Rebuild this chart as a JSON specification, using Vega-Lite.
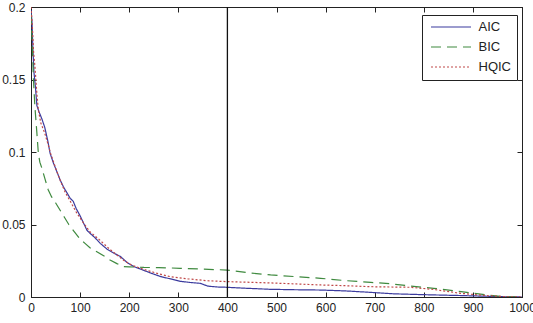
{
  "$schema": "https://vega.github.io/schema/vega-lite/v6.json",
  "width": 491,
  "height": 290,
  "autosize": {"type": "none"},
  "padding": {"left": 31, "top": 7, "right": 11, "bottom": 26},
  "background": "white",
  "config": {
    "view": {"stroke": "#222", "strokeWidth": 1},
    "axis": {
      "grid": false,
      "domainColor": "#222",
      "tickColor": "#222",
      "tickSize": -5,
      "labelFont": "Liberation Sans",
      "labelFontSize": 12,
      "labelColor": "#222",
      "title": null
    },
    "legend": {
      "labelFont": "Liberation Sans",
      "labelFontSize": 13,
      "labelColor": "#222"
    }
  },
  "datasets": {
    "curves": [
      {"model": "AIC", "n": 0, "v": 0.198}, {"model": "AIC", "n": 2, "v": 0.19}, {"model": "AIC", "n": 4, "v": 0.17},
      {"model": "AIC", "n": 6, "v": 0.155}, {"model": "AIC", "n": 9, "v": 0.145}, {"model": "AIC", "n": 12, "v": 0.132},
      {"model": "AIC", "n": 16, "v": 0.128}, {"model": "AIC", "n": 22, "v": 0.123}, {"model": "AIC", "n": 28, "v": 0.117},
      {"model": "AIC", "n": 34, "v": 0.108}, {"model": "AIC", "n": 39, "v": 0.099}, {"model": "AIC", "n": 45, "v": 0.093},
      {"model": "AIC", "n": 52, "v": 0.087}, {"model": "AIC", "n": 59, "v": 0.081}, {"model": "AIC", "n": 66, "v": 0.076},
      {"model": "AIC", "n": 73, "v": 0.072}, {"model": "AIC", "n": 80, "v": 0.068}, {"model": "AIC", "n": 86, "v": 0.066},
      {"model": "AIC", "n": 92, "v": 0.061}, {"model": "AIC", "n": 100, "v": 0.056}, {"model": "AIC", "n": 107, "v": 0.051},
      {"model": "AIC", "n": 114, "v": 0.046}, {"model": "AIC", "n": 120, "v": 0.044}, {"model": "AIC", "n": 130, "v": 0.041},
      {"model": "AIC", "n": 141, "v": 0.037}, {"model": "AIC", "n": 155, "v": 0.033}, {"model": "AIC", "n": 170, "v": 0.030},
      {"model": "AIC", "n": 182, "v": 0.028}, {"model": "AIC", "n": 195, "v": 0.024}, {"model": "AIC", "n": 209, "v": 0.021},
      {"model": "AIC", "n": 225, "v": 0.019}, {"model": "AIC", "n": 243, "v": 0.0166}, {"model": "AIC", "n": 265, "v": 0.014},
      {"model": "AIC", "n": 284, "v": 0.0125}, {"model": "AIC", "n": 304, "v": 0.0108}, {"model": "AIC", "n": 325, "v": 0.0100},
      {"model": "AIC", "n": 345, "v": 0.0094}, {"model": "AIC", "n": 360, "v": 0.0075}, {"model": "AIC", "n": 380, "v": 0.0069},
      {"model": "AIC", "n": 399, "v": 0.0067}, {"model": "AIC", "n": 440, "v": 0.0060}, {"model": "AIC", "n": 488, "v": 0.0053},
      {"model": "AIC", "n": 540, "v": 0.0050}, {"model": "AIC", "n": 590, "v": 0.0048}, {"model": "AIC", "n": 640, "v": 0.0042},
      {"model": "AIC", "n": 692, "v": 0.0032}, {"model": "AIC", "n": 739, "v": 0.0022}, {"model": "AIC", "n": 800, "v": 0.0016},
      {"model": "AIC", "n": 876, "v": 0.0010}, {"model": "AIC", "n": 930, "v": 0.0005}, {"model": "AIC", "n": 960, "v": 0.0002},
      {"model": "AIC", "n": 1000, "v": 0},
      {"model": "BIC", "n": 0, "v": 0.195}, {"model": "BIC", "n": 3, "v": 0.17}, {"model": "BIC", "n": 5, "v": 0.15},
      {"model": "BIC", "n": 8, "v": 0.131}, {"model": "BIC", "n": 12, "v": 0.113}, {"model": "BIC", "n": 15, "v": 0.099},
      {"model": "BIC", "n": 18, "v": 0.093}, {"model": "BIC", "n": 22, "v": 0.089}, {"model": "BIC", "n": 28, "v": 0.082},
      {"model": "BIC", "n": 35, "v": 0.074}, {"model": "BIC", "n": 42, "v": 0.069}, {"model": "BIC", "n": 50, "v": 0.065},
      {"model": "BIC", "n": 59, "v": 0.060}, {"model": "BIC", "n": 68, "v": 0.055}, {"model": "BIC", "n": 77, "v": 0.050},
      {"model": "BIC", "n": 86, "v": 0.046}, {"model": "BIC", "n": 100, "v": 0.040}, {"model": "BIC", "n": 110, "v": 0.037},
      {"model": "BIC", "n": 120, "v": 0.034}, {"model": "BIC", "n": 135, "v": 0.031}, {"model": "BIC", "n": 150, "v": 0.028},
      {"model": "BIC", "n": 161, "v": 0.0255}, {"model": "BIC", "n": 175, "v": 0.023}, {"model": "BIC", "n": 188, "v": 0.021},
      {"model": "BIC", "n": 200, "v": 0.0208}, {"model": "BIC", "n": 230, "v": 0.0204}, {"model": "BIC", "n": 260, "v": 0.0203},
      {"model": "BIC", "n": 304, "v": 0.0198}, {"model": "BIC", "n": 350, "v": 0.0192}, {"model": "BIC", "n": 399, "v": 0.0186},
      {"model": "BIC", "n": 440, "v": 0.0168}, {"model": "BIC", "n": 488, "v": 0.0152}, {"model": "BIC", "n": 540, "v": 0.0140},
      {"model": "BIC", "n": 590, "v": 0.0129}, {"model": "BIC", "n": 640, "v": 0.0113}, {"model": "BIC", "n": 692, "v": 0.0101},
      {"model": "BIC", "n": 730, "v": 0.0092}, {"model": "BIC", "n": 773, "v": 0.0076}, {"model": "BIC", "n": 820, "v": 0.0060},
      {"model": "BIC", "n": 876, "v": 0.0037}, {"model": "BIC", "n": 930, "v": 0.0014}, {"model": "BIC", "n": 963, "v": 0.0002},
      {"model": "BIC", "n": 1000, "v": 0},
      {"model": "HQIC", "n": 0, "v": 0.2}, {"model": "HQIC", "n": 3, "v": 0.185}, {"model": "HQIC", "n": 5, "v": 0.17},
      {"model": "HQIC", "n": 8, "v": 0.159}, {"model": "HQIC", "n": 12, "v": 0.14}, {"model": "HQIC", "n": 15, "v": 0.129},
      {"model": "HQIC", "n": 20, "v": 0.12}, {"model": "HQIC", "n": 28, "v": 0.113}, {"model": "HQIC", "n": 35, "v": 0.105},
      {"model": "HQIC", "n": 40, "v": 0.099}, {"model": "HQIC", "n": 50, "v": 0.089}, {"model": "HQIC", "n": 60, "v": 0.080},
      {"model": "HQIC", "n": 70, "v": 0.072}, {"model": "HQIC", "n": 80, "v": 0.066}, {"model": "HQIC", "n": 93, "v": 0.058},
      {"model": "HQIC", "n": 107, "v": 0.051}, {"model": "HQIC", "n": 120, "v": 0.045}, {"model": "HQIC", "n": 141, "v": 0.039},
      {"model": "HQIC", "n": 160, "v": 0.033}, {"model": "HQIC", "n": 175, "v": 0.029}, {"model": "HQIC", "n": 190, "v": 0.025},
      {"model": "HQIC", "n": 205, "v": 0.022}, {"model": "HQIC", "n": 230, "v": 0.019}, {"model": "HQIC", "n": 260, "v": 0.016},
      {"model": "HQIC", "n": 284, "v": 0.014}, {"model": "HQIC", "n": 320, "v": 0.0125}, {"model": "HQIC", "n": 360, "v": 0.0112},
      {"model": "HQIC", "n": 399, "v": 0.0106}, {"model": "HQIC", "n": 440, "v": 0.0102}, {"model": "HQIC", "n": 488, "v": 0.0097},
      {"model": "HQIC", "n": 540, "v": 0.0090}, {"model": "HQIC", "n": 590, "v": 0.0083}, {"model": "HQIC", "n": 640, "v": 0.0078},
      {"model": "HQIC", "n": 692, "v": 0.0071}, {"model": "HQIC", "n": 730, "v": 0.0069}, {"model": "HQIC", "n": 773, "v": 0.0067},
      {"model": "HQIC", "n": 820, "v": 0.0052}, {"model": "HQIC", "n": 876, "v": 0.0025}, {"model": "HQIC", "n": 930, "v": 0.0009},
      {"model": "HQIC", "n": 970, "v": 0.0002}, {"model": "HQIC", "n": 1000, "v": 0}
    ],
    "marker": [{"n": 400, "lo": 0, "hi": 0.2}]
  },
  "resolve": {"axis": {"x": "independent", "y": "independent"}},
  "layer": [
    {
      "data": {"name": "curves"},
      "mark": {"type": "line", "strokeWidth": 1.2, "clip": true},
      "encoding": {
        "x": {
          "field": "n", "type": "quantitative",
          "scale": {"domain": [0, 1000], "nice": false, "zero": false},
          "axis": {"values": [0,100,200,300,400,500,600,700,800,900,1000], "format": "d", "labelPadding": 10, "labelFlush": false}
        },
        "y": {
          "field": "v", "type": "quantitative",
          "scale": {"domain": [0, 0.2], "nice": false},
          "axis": {"values": [0, 0.05, 0.1, 0.15, 0.2], "format": "~g", "labelPadding": 11}
        },
        "color": {
          "field": "model", "type": "nominal",
          "scale": {"domain": ["AIC", "BIC", "HQIC"], "range": ["#3b3b9e", "#3f8a3f", "#c04848"]},
          "legend": {
            "title": null,
            "orient": "none",
            "legendX": 391,
            "legendY": 8,
            "symbolType": "M-0.545,0H6.73",
            "symbolSize": 121,
            "symbolStrokeWidth": 1.2,
            "fillColor": "white",
            "strokeColor": "#222",
            "padding": 5.5,
            "rowPadding": 6,
            "labelOffset": 38
          }
        },
        "strokeDash": {
          "field": "model", "type": "nominal",
          "scale": {"domain": ["AIC", "BIC", "HQIC"], "range": [[1, 0], [10, 6], [2, 2]]},
          "legend": null
        }
      }
    },
    {
      "data": {"name": "marker"},
      "mark": {"type": "rule", "color": "#111", "strokeWidth": 1.3},
      "encoding": {
        "x": {
          "field": "n", "type": "quantitative",
          "axis": {"orient": "top", "values": [0,100,200,300,400,500,600,700,800,900,1000], "labels": false}
        },
        "y": {
          "field": "lo", "type": "quantitative",
          "axis": {"orient": "right", "values": [0, 0.05, 0.1, 0.15, 0.2], "labels": false}
        },
        "y2": {"field": "hi"}
      }
    }
  ]
}
